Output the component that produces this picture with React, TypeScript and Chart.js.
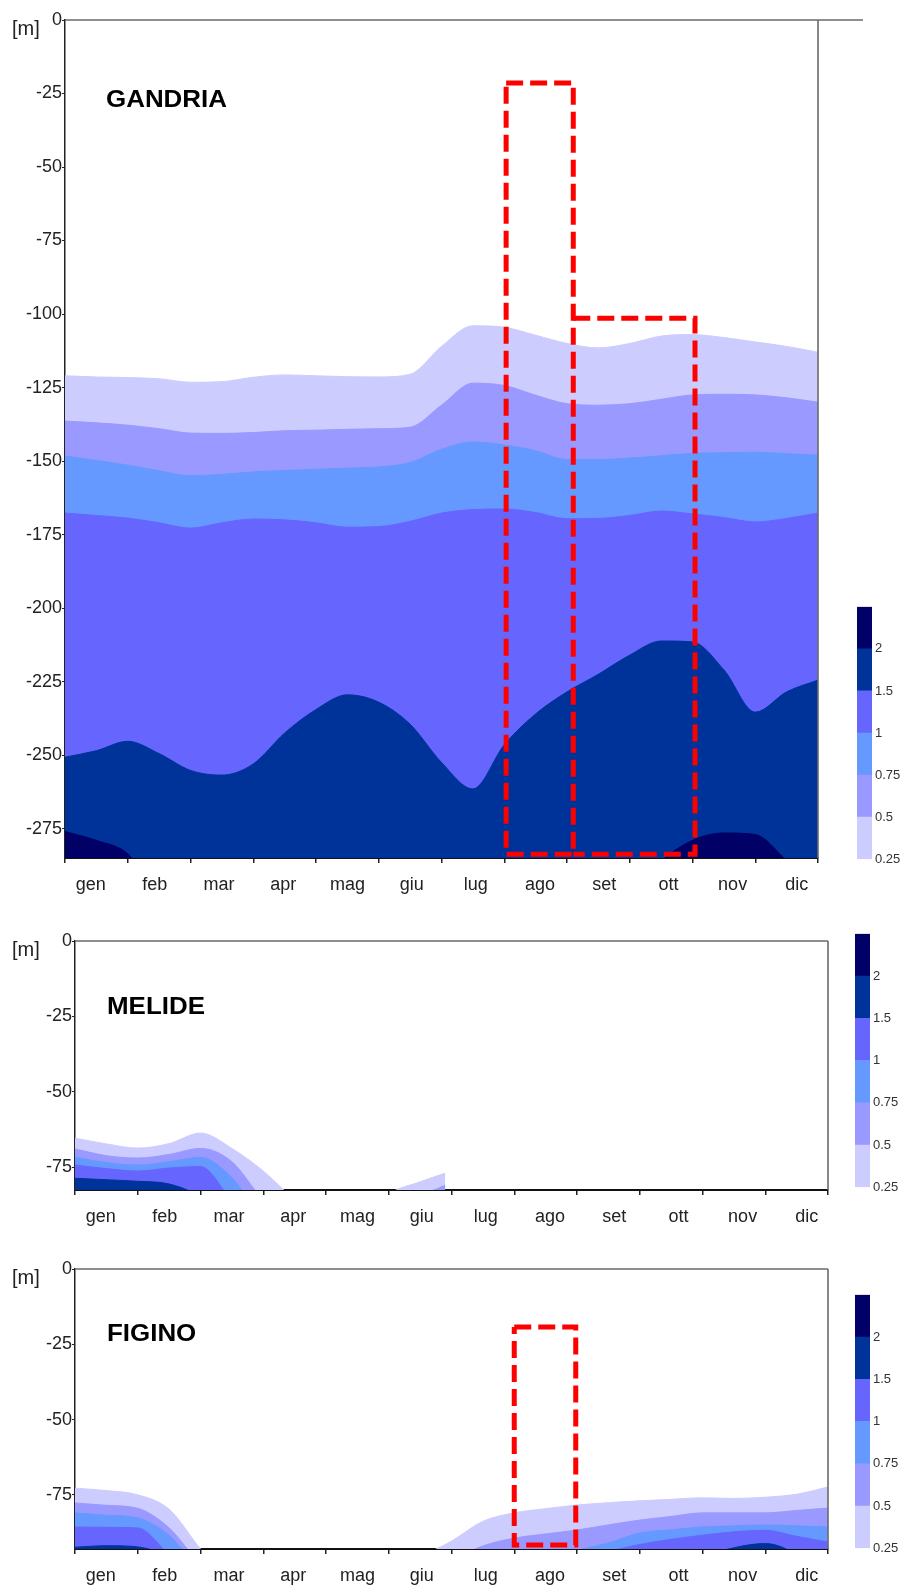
import React, { useEffect, useRef } from 'react';
import { Chart, registerables } from 'chart.js';

Chart.register(...registerables);

const FONT = '"Liberation Sans", Arial, Helvetica, sans-serif';
const _ = null;

// ---------- shared labels / levels ----------
const MONTHS = ['gen', 'feb', 'mar', 'apr', 'mag', 'giu', 'lug', 'ago', 'set', 'ott', 'nov', 'dic'];
const LEVEL_LABELS = ['0.25', '0.5', '0.75', '1', '1.5', '2'];
const LEVEL_COLORS = ['#ccccff', '#9999ff', '#6699ff', '#6666ff', '#003399', '#000066'];

// month positions (0 = start of gen, 12 = end of dic)
const X_HALF = [0, 0.5, 1, 1.5, 2, 2.5, 3, 3.5, 4, 4.5, 5, 5.5, 6, 6.5, 7, 7.5, 8, 8.5, 9, 9.5, 10, 10.5, 11, 11.5, 12];

// ---------- GANDRIA: depth [m] of each iso-line ----------
const GANDRIA_BOTTOM = 285;
const GANDRIA_025 = [121, 121.4, 121.6, 122, 123.2, 123, 121.5, 120.7, 121, 121.3, 121.4, 120.5, 111, 104, 104.5, 107.2, 110, 111.5, 110, 107.5, 107, 108, 109.5, 111, 113];
const GANDRIA_050 = [136.4, 137, 137.8, 139, 140.5, 140.6, 140.3, 139.7, 139.5, 139.2, 139, 138.5, 131, 123.5, 124.3, 127.6, 130.5, 131, 130.5, 129, 127.5, 127.3, 127.5, 128.5, 130];
const GANDRIA_075 = [148.3, 149.8, 151.4, 153.3, 155, 154.5, 153.7, 153.2, 152.8, 152.4, 152, 150.5, 146, 143.5, 144.5, 146.5, 149.5, 149.5, 149, 148.2, 147.4, 147.2, 147, 147.5, 148];
const GANDRIA_100 = [167.7, 168.5, 169.4, 171, 172.8, 171, 169.7, 170, 171, 172.5, 172.3, 170.5, 167.7, 166.5, 166.3, 167.5, 169.6, 169.5, 168.5, 167, 168, 169.2, 170.7, 169.5, 167.7];
const GANDRIA_150 = [250.7, 248.5, 245.3, 249.5, 255.2, 256.8, 253, 242.5, 234.5, 229.5, 232, 239.5, 252.5, 261.5, 246.5, 236, 228.5, 222.5, 216, 211.2, 211.5, 221, 235.4, 228.5, 224.5];
const GANDRIA_200 = [276, 279, 283.5, _, _, _, _, _, _, _, _, _, _, _, _, _, _, _, _, 286, 279, 276.5, 277, 286, _];

// ---------- MELIDE ----------
const MELIDE_BOTTOM = 82.6;
const MELIDE_X = [0, 0.5, 1, 1.5, 2, 2.5, 3, 3.5, 4, 4.5, 5, 5.5, 5.9];
const MELIDE_025 = [65.4, 67.3, 68.7, 67.2, 63.7, 68.8, 76.3, 86, _, _, 84, 79.9, 77];
const MELIDE_050 = [69, 71.2, 72, 70.8, 68.8, 73.2, 86, _, _, _, _, 85, 81];
const MELIDE_075 = [71.7, 73.5, 74.3, 73.2, 71.8, 78.5, 92, _, _, _, _, _, _];
const MELIDE_100 = [74.3, 75.5, 76.3, 75.3, 74.8, 86, _, _, _, _, _, _, _];
const MELIDE_150 = [78.7, 79.2, 79.7, 80.6, 85, _, _, _, _, _, _, _, _];

// ---------- FIGINO ----------
const FIGINO_BOTTOM = 93;
const FIGINO_025 = [72.8, 73.6, 75, 79.8, 93, _, _, _, _, _, _, 96, 90.4, 83.8, 81, 79.6, 78.4, 77.6, 77, 76.5, 76, 76.2, 75.8, 74.8, 72.4];
const FIGINO_050 = [77.7, 78.5, 79.5, 86, 98, _, _, _, _, _, _, _, 97, 92, 89.4, 88, 86.7, 85, 83.4, 82.2, 81, 81, 81, 80.2, 79.4];
const FIGINO_075 = [81, 81.8, 82.7, 88.5, 100, _, _, _, _, _, _, _, _, _, _, 97, 93.5, 91, 87.7, 86.6, 85.7, 85.3, 85, 85.3, 85.7];
const FIGINO_100 = [85.7, 85.8, 86, 95, _, _, _, _, _, _, _, _, _, _, _, _, 98, 94, 91.5, 89.8, 88.4, 87.3, 86.8, 88.8, 90.7];
const FIGINO_150 = [92.4, 91.9, 92.3, 96, _, _, _, _, _, _, _, _, _, _, _, _, _, _, _, _, 96, 92.6, 91.2, 95, _];

// ---------- red dashed boxes (month position, depth) ----------
const GANDRIA_BOX_A_X = [7.03, 8.1, 8.1, 7.03, 7.03];
const GANDRIA_BOX_A_DEPTH = [21.4, 21.4, 283.7, 283.7, 21.4];
const GANDRIA_BOX_B_X = [8.1, 10.04, 10.04, 8.1];
const GANDRIA_BOX_B_DEPTH = [101.4, 101.4, 283.7, 283.7];
const FIGINO_BOX_X = [7.0, 7.98, 7.98, 7.0, 7.0];
const FIGINO_BOX_DEPTH = [19.3, 19.3, 91.7, 91.7, 19.3];

type Panel = {
  title: string;
  xs: number[];
  levels: (number | null)[][];
  bottom: number;
  boxes: { x: number[]; d: number[] }[];
  canvasTop: number;
  canvasHeight: number;
  plotLeft: number;
  plotRight: number;
  plotBottom: number; // relative to canvas
  topExtend: number;
  titleDx: number;
  titleDy: number;
};

const PANELS: Panel[] = [
  {
    title: 'GANDRIA',
    xs: X_HALF,
    levels: [GANDRIA_025, GANDRIA_050, GANDRIA_075, GANDRIA_100, GANDRIA_150, GANDRIA_200],
    bottom: GANDRIA_BOTTOM,
    boxes: [
      { x: GANDRIA_BOX_A_X, d: GANDRIA_BOX_A_DEPTH },
      { x: GANDRIA_BOX_B_X, d: GANDRIA_BOX_B_DEPTH },
    ],
    canvasTop: 0,
    canvasHeight: 905,
    plotLeft: 65,
    plotRight: 818,
    plotBottom: 858,
    topExtend: 45,
    titleDx: 41,
    titleDy: 87,
  },
  {
    title: 'MELIDE',
    xs: MELIDE_X,
    levels: [MELIDE_025, MELIDE_050, MELIDE_075, MELIDE_100, MELIDE_150],
    bottom: MELIDE_BOTTOM,
    boxes: [],
    canvasTop: 921,
    canvasHeight: 311,
    plotLeft: 75,
    plotRight: 828,
    plotBottom: 269,
    topExtend: 0,
    titleDx: 32,
    titleDy: 73,
  },
  {
    title: 'FIGINO',
    xs: X_HALF,
    levels: [FIGINO_025, FIGINO_050, FIGINO_075, FIGINO_100, FIGINO_150],
    bottom: FIGINO_BOTTOM,
    boxes: [{ x: FIGINO_BOX_X, d: FIGINO_BOX_DEPTH }],
    canvasTop: 1249,
    canvasHeight: 337,
    plotLeft: 75,
    plotRight: 828,
    plotBottom: 300,
    topExtend: 0,
    titleDx: 32,
    titleDy: 72,
  },
];

const COLORBARS = [
  { left: 857, top: 596, width: 47, height: 274 },
  { left: 855, top: 923, width: 49, height: 275 },
  { left: 855, top: 1284, width: 49, height: 275 },
];

function decorPlugin(p: Panel) {
  return {
    id: 'panelDecor',
    afterDraw(chart: any) {
      const { ctx, chartArea: a } = chart;
      ctx.save();
      ctx.strokeStyle = '#6b6b6b';
      ctx.lineWidth = 1.6;
      ctx.beginPath();
      ctx.moveTo(a.left, a.top);
      ctx.lineTo(a.right + p.topExtend, a.top);
      ctx.moveTo(a.right, a.top);
      ctx.lineTo(a.right, a.bottom);
      ctx.stroke();
      ctx.fillStyle = '#222';
      ctx.textAlign = 'left';
      ctx.textBaseline = 'alphabetic';
      ctx.font = `20px ${FONT}`;
      ctx.fillText('[m]', 12, a.top + 15);
      ctx.translate(a.left + p.titleDx, a.top + p.titleDy);
      ctx.scale(1.08, 1);
      ctx.fillStyle = '#000';
      ctx.font = `bold 24px ${FONT}`;
      ctx.fillText(p.title, 0, 0);
      ctx.restore();
    },
  };
}

function contourConfig(p: Panel): any {
  const below = p.bottom + 12;
  const bands = p.levels.map((arr, i) => ({
    type: 'line',
    label: LEVEL_LABELS[i],
    data: p.xs.map((x, j) => ({ x, y: -(arr[j] ?? below) })),
    xAxisID: 'x',
    yAxisID: 'y',
    borderColor: LEVEL_COLORS[i],
    backgroundColor: LEVEL_COLORS[i],
    borderWidth: 1,
    pointRadius: 0,
    fill: 'start',
    cubicInterpolationMode: 'monotone',
    order: 20 - i,
  }));
  const boxes = p.boxes.map((b) => ({
    type: 'line',
    data: b.x.map((x, j) => ({ x, y: -b.d[j] })),
    xAxisID: 'x',
    yAxisID: 'y',
    borderColor: '#ff0000',
    borderWidth: 5,
    borderDash: [17, 7],
    borderCapStyle: 'butt',
    borderJoinStyle: 'miter',
    pointRadius: 0,
    fill: false,
    tension: 0,
    order: 0,
  }));
  const labelAxisH = p.canvasHeight - p.plotBottom - 5;
  return {
    type: 'line',
    data: { datasets: [...bands, ...boxes] },
    options: {
      animation: false,
      responsive: false,
      events: [],
      layout: { padding: { left: 0, top: 20, right: 904 - p.plotRight, bottom: 0 } },
      plugins: { legend: { display: false }, tooltip: { enabled: false } },
      scales: {
        x: {
          type: 'linear',
          position: 'bottom',
          weight: 0,
          z: 1,
          min: 0,
          max: 12,
          ticks: { display: false, stepSize: 1 },
          grid: { drawOnChartArea: false, drawTicks: true, tickLength: 5, color: '#222', lineWidth: 1.5 },
          border: { display: true, color: '#111', width: 2 },
          afterFit: (s: any) => { s.height = 5; },
        },
        xl: {
          type: 'linear',
          position: 'bottom',
          weight: 1,
          min: -0.4,
          max: 11.33,
          grid: { display: false, drawTicks: false },
          border: { display: false },
          ticks: {
            stepSize: 1,
            includeBounds: false,
            autoSkip: false,
            maxRotation: 0,
            padding: 11,
            color: '#222',
            font: { family: FONT, size: 18 },
            callback: (v: number) => MONTHS[Math.round(v)] ?? '',
          },
          afterFit: (s: any) => { s.height = labelAxisH; },
        },
        y: {
          type: 'linear',
          position: 'left',
          z: 1,
          min: -p.bottom,
          max: 0,
          ticks: {
            stepSize: 25,
            includeBounds: false,
            padding: 0,
            color: '#222',
            font: { family: FONT, size: 18 },
          },
          grid: { drawOnChartArea: false, drawTicks: true, tickLength: 3, color: '#222', lineWidth: 1 },
          border: { display: true, color: '#222', width: 1.5 },
          afterFit: (s: any) => { s.width = p.plotLeft; },
        },
      },
    },
    plugins: [decorPlugin(p)],
  };
}

function colorbarConfig(width: number): any {
  return {
    type: 'bar',
    data: {
      labels: [''],
      datasets: LEVEL_COLORS.map((c, i) => ({
        label: LEVEL_LABELS[i],
        data: [1],
        backgroundColor: c,
        borderWidth: 0,
        barPercentage: 1,
        categoryPercentage: 1,
      })),
    },
    options: {
      animation: false,
      responsive: false,
      events: [],
      layout: { padding: { left: 0, top: 8, right: 0, bottom: 10 } },
      plugins: { legend: { display: false }, tooltip: { enabled: false } },
      scales: {
        x: { display: false, stacked: true },
        y: {
          stacked: true,
          position: 'right',
          min: 0,
          max: LEVEL_LABELS.length,
          grid: { display: false, drawTicks: false },
          border: { display: false },
          ticks: {
            stepSize: 1,
            padding: 3,
            color: '#333',
            font: { family: FONT, size: 13 },
            callback: (v: number) => LEVEL_LABELS[Math.round(v)] ?? '',
          },
          afterFit: (s: any) => { s.width = width - 15; },
        },
      },
    },
  };
}

function ChartCanvas({ left, top, width, height, make }: { left: number; top: number; width: number; height: number; make: () => any }) {
  const ref = useRef<HTMLCanvasElement | null>(null);
  useEffect(() => {
    if (!ref.current) return;
    const chart = new Chart(ref.current, make());
    return () => chart.destroy();
  }, []);
  return (
    <canvas
      ref={ref}
      width={width}
      height={height}
      style={{ position: 'absolute', left, top, width, height }}
    />
  );
}

export default function App() {
  return (
    <div style={{ position: 'absolute', left: 0, top: 0, width: 904, height: 1586, background: '#ffffff', overflow: 'hidden' }}>
      {PANELS.map((p) => (
        <ChartCanvas key={p.title} left={0} top={p.canvasTop} width={904} height={p.canvasHeight} make={() => contourConfig(p)} />
      ))}
      {COLORBARS.map((c, i) => (
        <ChartCanvas key={'cb' + i} left={c.left} top={c.top} width={c.width} height={c.height} make={() => colorbarConfig(c.width)} />
      ))}
    </div>
  );
}
